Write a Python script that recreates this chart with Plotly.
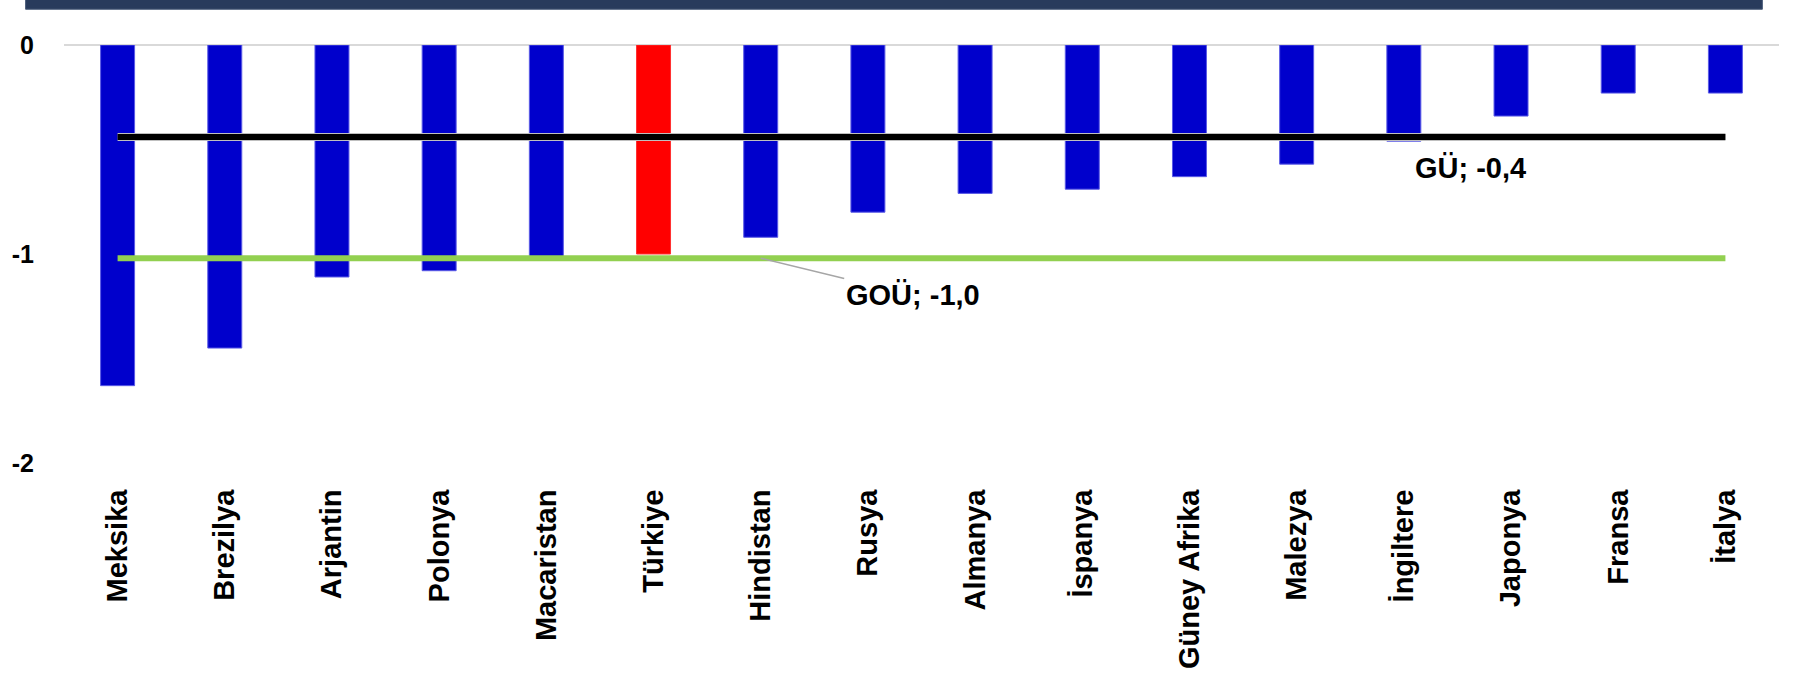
import plotly.graph_objects as go

categories = ["Meksika", "Brezilya", "Arjantin", "Polonya", "Macaristan", "Türkiye",
              "Hindistan", "Rusya", "Almanya", "İspanya", "Güney Afrika", "Malezya",
              "İngiltere", "Japonya", "Fransa", "İtalya"]
values = [-1.63, -1.45, -1.11, -1.08, -1.03, -1.00, -0.92, -0.80, -0.71, -0.69,
          -0.63, -0.57, -0.46, -0.34, -0.23, -0.23]
gu_value = -0.44
gou_value = -1.02
gu_label = "GÜ; -0,4"
gou_label = "GOÜ; -1,0"
highlight = "Türkiye"
y_tickvals = [0, -1, -2]
y_ticktext = ["0", "-1", "-2"]

FONT = "Liberation Sans, Arial, sans-serif"
bar_colors = ["#FF0000" if c == highlight else "#0000CC" for c in categories]
bar_lines = ["#FF3030" if c == highlight else "#5A5AE6" for c in categories]

fig = go.Figure()
fig.add_trace(go.Bar(x=categories, y=values, marker=dict(color=bar_colors,
                     line=dict(color=bar_lines, width=1)), showlegend=False))
fig.add_trace(go.Scatter(x=categories, y=[gu_value] * len(categories), mode="lines",
                         line=dict(color="#BFBFBF", width=8), showlegend=False, hoverinfo="skip"))
fig.add_trace(go.Scatter(x=categories, y=[gu_value] * len(categories), mode="lines",
                         line=dict(color="#000000", width=6), showlegend=False))
fig.add_trace(go.Scatter(x=categories, y=[gou_value] * len(categories), mode="lines",
                         line=dict(color="#92D050", width=6), showlegend=False))

fig.add_annotation(x=12.62, y=-0.587, text=gu_label, showarrow=False,
                   font=dict(family=FONT, size=29, color="black", weight="bold"))
fig.add_annotation(x=categories[6], y=gou_value, text=gou_label, showarrow=True,
                   ax=152, ay=37, arrowhead=0, arrowcolor="#A6A6A6", arrowwidth=1.5,
                   standoff=0,
                   font=dict(family=FONT, size=29, color="black", weight="bold"))

# dark header band at the top
fig.add_shape(type="rect", xref="paper", yref="paper",
              x0=-0.0224, x1=0.9903, y0=1.0855, y1=1.11,
              fillcolor="#283B5C", line=dict(color="#4A5C7A", width=1), layer="above")

fig.update_layout(
    width=1793, height=681,
    margin=dict(l=63, r=14, t=45, b=203),
    paper_bgcolor="white", plot_bgcolor="white",
    bargap=0.683,
    font=dict(family=FONT, color="black"),
)
fig.update_xaxes(type="category", range=[-0.5, 15.5], tickangle=-90,
                 ticks="outside", ticklen=14, tickcolor="rgba(0,0,0,0)",
                 tickfont=dict(family=FONT, size=29, color="black", weight="bold"),
                 showgrid=False, showline=False, zeroline=False)
fig.update_yaxes(range=[-2, 0], tickvals=y_tickvals, ticktext=y_ticktext,
                 ticks="outside", ticklen=24, tickcolor="rgba(0,0,0,0)",
                 tickfont=dict(family=FONT, size=25, color="black", weight="bold"),
                 showgrid=False, zeroline=True, zerolinecolor="#D9D9D9", zerolinewidth=2,
                 showline=False)

fig.write_html("out.html", config={"displayModeBar": False},
               post_script="document.body.style.margin='0';document.body.style.overflow='hidden';")
